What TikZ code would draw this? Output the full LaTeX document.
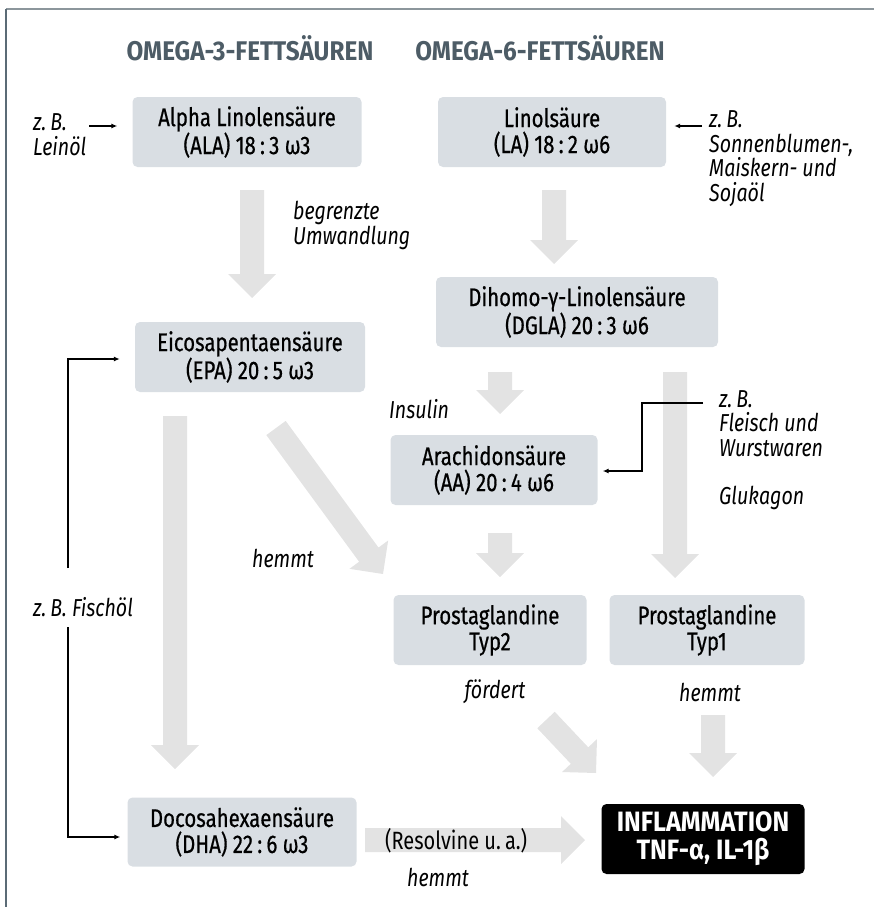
\documentclass[tikz,border=0pt]{standalone}
\usepackage{fontspec}
\setmainfont{Fira Sans}[FakeStretch=0.8]
\newfontfamily\boxfont{Fira Sans}[FakeStretch=0.8, FakeBold=0.6]
\newfontfamily\widefont{Fira Sans}[FakeStretch=0.9]
\usetikzlibrary{calc,arrows.meta}
\definecolor{boxfill}{HTML}{D9DEE3}
\definecolor{fatgrey}{HTML}{E3E3E3}
\definecolor{titlecol}{HTML}{4D5C66}
\definecolor{bordertop}{HTML}{8C969C}
\definecolor{borderleft}{HTML}{5B6B76}
\newcommand\fatarrow[2]{%
  \coordinate (fahead) at ($(#2)!24pt!(#1)$);
  \fill[fatgrey] ($(#1)!12pt!-90:(#2)$) -- ($(fahead)!12pt!90:(#1)$) -- ($(fahead)!24pt!90:(#1)$) -- (#2) -- ($(fahead)!24pt!-90:(#1)$) -- ($(fahead)!12pt!-90:(#1)$) -- ($(#1)!12pt!90:(#2)$) -- cycle;}
\tikzset{
  acid/.style={fill=boxfill, rounded corners=5pt, align=center, inner sep=0pt,
    font=\boxfont\fontsize{25.5}{26}\selectfont},
  infl/.style={fill=black, text=white, rounded corners=5pt, align=center, inner sep=0pt,
    font=\widefont\bfseries\fontsize{28}{28}\selectfont},
  lab/.style={align=left, inner sep=0pt, font=\itshape\fontsize{24.5}{24.5}\selectfont},
  clab/.style={align=center, inner sep=0pt, font=\itshape\fontsize{24.5}{24.5}\selectfont},
  ttl/.style={inner sep=0pt, text=titlecol, font=\widefont\bfseries\fontsize{27}{27}\selectfont},
  thin/.style={line width=1.2pt, -{Latex[length=6pt,width=5pt]}},
}
\begin{document}
\begin{tikzpicture}[x=1pt,y=-1pt]
\useasboundingbox (0,0) rectangle (874,907);
% frame
\draw[bordertop, line width=1.5pt] (6,9) -- (874,9);
\draw[borderleft, line width=1.5pt] (6,9) -- (6,907);
% titles
\node[ttl] (t3) at (250,48) {OMEGA-3-FETTSÄUREN};
\node[ttl] (t6) at (540,48) {OMEGA-6-FETTSÄUREN};
% fat arrows
\coordinate (f1s) at (252,190); \coordinate (f1e) at (252,298);
\coordinate (f2s) at (554,190); \coordinate (f2e) at (554,264);
\coordinate (f3s) at (500,372); \coordinate (f3e) at (500,414);
\coordinate (f4s) at (675,372); \coordinate (f4e) at (675,578);
\coordinate (f5s) at (175,416); \coordinate (f5e) at (175,769);
\coordinate (f6s) at (276,428); \coordinate (f6e) at (383,574);
\coordinate (f7s) at (500,533); \coordinate (f7e) at (500,577);
\coordinate (f8s) at (546,720); \coordinate (f8e) at (596,773);
\coordinate (f9s) at (713,715); \coordinate (f9e) at (713,777);
\coordinate (f10s) at (365,840); \coordinate (f10e) at (585,840);
\fatarrow{f1s}{f1e}
\fatarrow{f2s}{f2e}
\fatarrow{f3s}{f3e}
\fatarrow{f4s}{f4e}
\fatarrow{f5s}{f5e}
\fatarrow{f6s}{f6e}
\fatarrow{f7s}{f7e}
\fatarrow{f8s}{f8e}
\fatarrow{f9s}{f9e}
\fatarrow{f10s}{f10e}
% boxes
\node[acid, minimum width=229pt, minimum height=70pt] (ala) at (247,132) {Alpha Linolensäure\\(ALA) 18\,:\,3 ω3};
\node[acid, minimum width=228pt, minimum height=70pt] (la) at (552,132) {Linolsäure\\(LA) 18\,:\,2 ω6};
\node[acid, minimum width=282pt, minimum height=70pt] (dgla) at (577,312) {Dihomo-γ-Linolensäure\\(DGLA) 20\,:\,3 ω6};
\node[acid, minimum width=230pt, minimum height=70pt] (epa) at (250,357) {Eicosapentaensäure\\(EPA) 20\,:\,5 ω3};
\node[acid, minimum width=207pt, minimum height=70pt] (aa) at (494,470) {Arachidonsäure\\(AA) 20\,:\,4 ω6};
\node[acid, minimum width=193pt, minimum height=70pt] (typ2) at (490,630) {Prostaglandine\\Typ2};
\node[acid, minimum width=195pt, minimum height=70pt] (typ1) at (707,630) {Prostaglandine\\Typ1};
\node[acid, minimum width=229pt, minimum height=69pt] (dha) at (242,832) {Docosahexaensäure\\(DHA) 22\,:\,6 ω3};
\node[infl, minimum width=203pt, minimum height=70pt] (inf) at (703,839) {INFLAMMATION\\TNF-α, IL-1β};
% labels
\node[lab, anchor=west] (lein) at (33,134.5) {z.\,B.\\Leinöl};
\node[lab, anchor=west] (sonn) at (709,158.5) {z.\,B.\\Sonnenblumen-,\\Maiskern- und\\Sojaöl};
\node[lab, anchor=west] (begr) at (293,225.5) {begrenzte\\Umwandlung};
\node[lab, anchor=west] (fleisch) at (719,423.5) {z.\,B.\\Fleisch und\\Wurstwaren};
\node[lab, anchor=west] (gluk) at (719,498) {Glukagon};
\node[lab, anchor=west] (insu) at (389,409) {Insulin};
\node[lab, anchor=west] (hem1) at (252,558) {hemmt};
\node[lab, anchor=west] (fisch) at (33,607) {z.\,B. Fischöl};
\node[clab] (foerd) at (495,692) {fördert};
\node[clab] (hem2) at (710,692) {hemmt};
\node[inner sep=0pt, anchor=west, font=\fontsize{25}{26}\selectfont] (resol) at (385,841) {(Resolvine u.\,a.)};
\node[lab, anchor=west] (hem3) at (407,877) {hemmt};
% thin connectors
\coordinate (leinS) at (89,126);
\draw[thin] (leinS) -- ($(ala.west)+(-15,-6)$);
\coordinate (sonnS) at (702,126);
\draw[thin] (sonnS) -- ($(la.east)+(8,-6)$);
\coordinate (fischU) at (68,568);
\coordinate (fischD) at (68,627);
\draw[thin] (fischU) |- ($(epa.west)+(-15,2)$);
\draw[thin] (fischD) |- ($(dha.west)+(-7,5)$);
\coordinate (fleischS) at (703,403);
\draw[thin] (fleischS) -- (642,403) |- ($(aa.east)+(5,1)$);
\end{tikzpicture}
\end{document}
